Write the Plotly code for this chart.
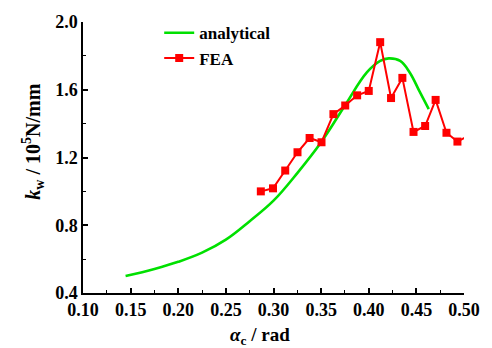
import plotly.graph_objects as go

# Analytical stiffness curve k_w(alpha_c)
alpha_analytical = [0.1447, 0.175, 0.200, 0.225, 0.250, 0.275, 0.300, 0.325, 0.350,
                    0.375, 0.398, 0.412, 0.421, 0.433, 0.443, 0.4536, 0.463]
kw_analytical = [0.500, 0.542, 0.584, 0.638, 0.715, 0.824, 0.945, 1.108, 1.290,
                 1.507, 1.702, 1.770, 1.785, 1.770, 1.702, 1.587, 1.486]

# Finite element results
alpha_fea = [0.2867, 0.2995, 0.3123, 0.3252, 0.3379, 0.3504, 0.3629, 0.3753, 0.3878,
             0.4000, 0.4120, 0.4234, 0.4353, 0.4470, 0.4592, 0.4702, 0.4816, 0.4931,
             0.5050]
kw_fea = [1.000, 1.018, 1.123, 1.231, 1.315, 1.290, 1.456, 1.507, 1.567,
          1.593, 1.881, 1.551, 1.670, 1.351, 1.386, 1.540, 1.346, 1.294,
          1.330]

x_ticks = [0.10, 0.15, 0.20, 0.25, 0.30, 0.35, 0.40, 0.45, 0.50]
x_tick_text = ["0.10", "0.15", "0.20", "0.25", "0.30", "0.35", "0.40", "0.45", "0.50"]
y_ticks = [0.4, 0.8, 1.2, 1.6, 2.0]
y_tick_text = ["0.4", "0.8", "1.2", "1.6", "2.0"]

FONT = "Liberation Serif"


def bold(s):
    return "<b>" + s + "</b>"


fig = go.Figure()
fig.add_trace(go.Scatter(
    x=alpha_analytical, y=kw_analytical, mode="lines", name=bold("analytical"),
    line=dict(color="#00e000", width=2.6, shape="spline", smoothing=1.1),
))
fig.add_trace(go.Scatter(
    x=alpha_fea, y=kw_fea, mode="lines+markers", name=bold("FEA"),
    line=dict(color="#ff0000", width=2),
    marker=dict(symbol="square", size=8, color="#ff0000"),
))

axis_common = dict(
    showline=True, linecolor="black", linewidth=1.5, mirror=False,
    showgrid=False, zeroline=False,
    ticks="inside", ticklen=5, tickwidth=1.5, tickcolor="black",
    tickfont=dict(family=FONT, size=18, color="black"),
)

fig.update_xaxes(
    range=[0.1, 0.5], tickvals=x_ticks, ticktext=[bold(t) for t in x_tick_text],
    minor=dict(dtick=0.025, tick0=0.1, ticks="inside", ticklen=3, tickwidth=1.2,
               tickcolor="black"),
    **axis_common,
)
fig.update_yaxes(
    range=[0.4, 2.0], tickvals=y_ticks, ticktext=[bold(t) for t in y_tick_text],
    minor=dict(dtick=0.2, tick0=0.4, ticks="inside", ticklen=3, tickwidth=1.2,
               tickcolor="black"),
    **axis_common,
)

fig.add_annotation(
    text=bold("<i>α</i><sub>c</sub> / rad"), xref="paper", yref="paper",
    x=0.465, y=-0.158, xanchor="center", yanchor="middle", showarrow=False,
    font=dict(family=FONT, size=19, color="black"),
)
fig.add_annotation(
    text=bold("<i>k</i><sub>w</sub> / 10<sup>5</sup>N/mm"), xref="paper", yref="paper",
    x=-0.13, y=0.56, xanchor="center", yanchor="middle", textangle=-90,
    showarrow=False,
    font=dict(family=FONT, size=20, color="black"),
)

fig.update_layout(
    width=492, height=348,
    margin=dict(l=83, r=24, t=15, b=55),
    paper_bgcolor="white", plot_bgcolor="white",
    showlegend=True,
    legend=dict(
        x=0.2, y=1.025, xanchor="left", yanchor="top",
        bgcolor="rgba(0,0,0,0)", borderwidth=0,
        font=dict(family=FONT, size=17, color="black"),
        tracegroupgap=0, itemwidth=30,
    ),
)

fig.write_html("out.html")
